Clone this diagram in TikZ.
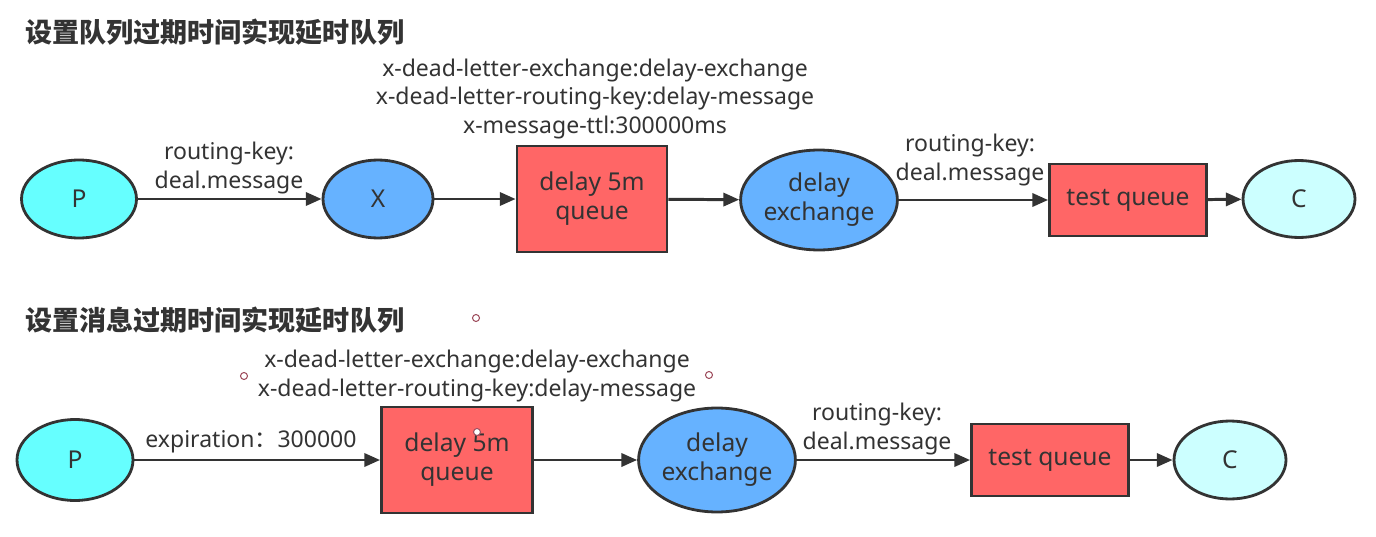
\documentclass[tikz,border=0pt]{standalone}
\usepackage{fontspec}
\setmainfont{Noto Sans}
\newfontfamily\cjk{Noto Sans CJK SC}
\usetikzlibrary{arrows.meta,shapes.geometric}
\definecolor{pcol}{HTML}{66FFFF}
\definecolor{ccol}{HTML}{CCFFFF}
\definecolor{xcol}{HTML}{66B2FF}
\definecolor{qcol}{HTML}{FF6666}
\definecolor{linecol}{HTML}{333333}
\definecolor{dotcol}{HTML}{A05060}
\tikzset{
  base/.style={draw=linecol, line width=1.6pt, text=linecol, font=\fontsize{14}{16.5}\selectfont, align=center, inner sep=0pt},
  ell/.style={base, ellipse},
  que/.style={base, rectangle, fill=qcol},
  lbl/.style={text=linecol, font=\fontsize{13.1}{16.2}\selectfont, align=center, inner sep=0pt},
  ttl/.style={text=linecol, font=\cjk\bfseries\fontsize{15.4}{18}\selectfont, anchor=west, inner sep=0pt},
  arr/.style={draw=linecol, line width=1.7pt, -{Triangle[length=9pt,width=7.5pt]}},
  dot/.style={draw=dotcol, fill=white, line width=0.6pt}
}
\begin{document}
\begin{tikzpicture}[x=0.02cm, y=-0.02cm]
\useasboundingbox (0,0) rectangle (1376,537);
% queue ttl
\node[ttl] (t1) at (25,32) {设置队列过期时间实现延时队列};
\node[ell, fill=pcol, minimum width=2.30cm, minimum height=1.56cm] (p1) at (79,199) {P};
\node[ell, fill=xcol, minimum width=2.20cm, minimum height=1.56cm] (x1) at (378,199) {X};
\node[que, minimum width=3.00cm, minimum height=2.12cm] (q1) at (592,199) {delay 5m\\queue};
\node[ell, fill=xcol, minimum width=3.02cm, minimum height=2.00cm] (e1) at (819,200) {delay\\exchange};
\node[que, minimum width=3.14cm, minimum height=1.44cm] (tq1) at (1128,200) {test queue};
\node[ell, fill=ccol, minimum width=2.24cm, minimum height=1.54cm] (c1) at (1299,199) {C};
\node[lbl] (k1) at (229,168) {routing-key:\\deal.message};
\node[lbl] (a1) at (595,99) {x-dead-letter-exchange:delay-exchange\\x-dead-letter-routing-key:delay-message\\x-message-ttl:300000ms};
\node[lbl] (k2) at (970,160) {routing-key:\\deal.message};
\draw[arr] (p1) -- (x1);
\draw[arr] (x1) -- (q1);
\draw[arr] (q1) -- (e1);
\draw[arr] (e1) -- (tq1);
\draw[arr] (tq1) -- (c1);
% message ttl
\node[ttl] (t2) at (25,320) {设置消息过期时间实现延时队列};
\node[ell, fill=pcol, minimum width=2.32cm, minimum height=1.62cm] (p2) at (75,460) {P};
\node[que, minimum width=3.02cm, minimum height=2.12cm] (q2) at (457,460) {delay 5m\\queue};
\node[ell, fill=xcol, minimum width=2.96cm, minimum height=2.08cm] (e2) at (717,460) {delay\\exchange};
\node[que, minimum width=3.14cm, minimum height=1.44cm] (tq2) at (1050,460) {test queue};
\node[ell, fill=ccol, minimum width=2.24cm, minimum height=1.56cm] (c2) at (1230,460) {C};
\node[lbl] (a2) at (477,376) {x-dead-letter-exchange:delay-exchange\\x-dead-letter-routing-key:delay-message};
\node[lbl] (k3) at (251,442) {expiration{\cjk ：}300000};
\node[lbl] (k4) at (877,429) {routing-key:\\deal.message};
\draw[arr] (p2) -- (q2);
\draw[arr] (q2) -- (e2);
\draw[arr] (e2) -- (tq2);
\draw[arr] (tq2) -- (c2);
% handles
\draw[dot] (476,318) circle (3.5);
\draw[dot] (244,376) circle (3.5);
\draw[dot] (709,375) circle (3.5);
\draw[dot] (477,432) circle (3.5);
\end{tikzpicture}
\end{document}
